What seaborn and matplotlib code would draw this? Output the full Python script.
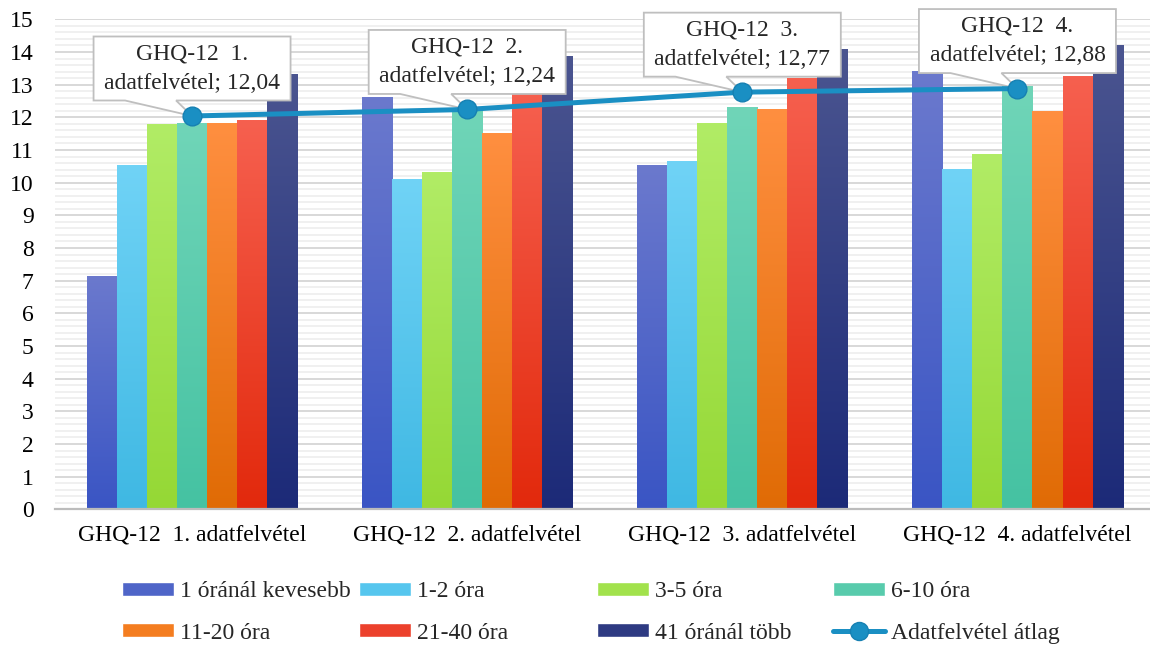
import numpy as np
import pandas as pd
import matplotlib
matplotlib.use("Agg")
import matplotlib.pyplot as plt
import matplotlib.transforms as mtransforms
from matplotlib.patches import Patch, PathPatch
from matplotlib.path import Path
from matplotlib.lines import Line2D
from matplotlib.ticker import MultipleLocator
from matplotlib.colors import to_rgb
import seaborn as sns

# --- data ---
surveys = ["GHQ-12  1. adatfelvétel", "GHQ-12  2. adatfelvétel",
           "GHQ-12  3. adatfelvétel", "GHQ-12  4. adatfelvétel"]
groups = ["1 óránál kevesebb", "1-2 óra", "3-5 óra", "6-10 óra",
          "11-20 óra", "21-40 óra", "41 óránál több"]

less_1h = [7.12, 12.61, 10.52, 13.40]
h1_2 = [10.52, 10.08, 10.64, 10.39]
h3_5 = [11.76, 10.29, 11.81, 10.85]
h6_10 = [11.79, 12.20, 12.29, 12.92]
h11_20 = [11.81, 11.49, 12.22, 12.16]
h21_40 = [11.89, 12.75, 13.17, 13.23]
more_41h = [13.29, 13.85, 14.06, 14.18]
average = [12.04, 12.24, 12.77, 12.88]
avg_label = "Adatfelvétel átlag"

series = [less_1h, h1_2, h3_5, h6_10, h11_20, h21_40, more_41h]

# gradient colours (top -> bottom) per group
top_colors = ["#6b79cd", "#70d3f6", "#b1ec66", "#70d5b8", "#ff8f40", "#f6604f", "#4b5590"]
bottom_colors = ["#3a55c4", "#3fb8e3", "#95d835", "#45c2a2", "#e06b05", "#e2290c", "#1c2a78"]
mid_colors = ["#4f65c8", "#56c6ee", "#a2e24c", "#58cbac", "#f47d20", "#ec412c", "#2e3a82"]
line_color = "#1a8fc3"

df = pd.DataFrame([
    {"survey": s, "group": g, "value": vals[i]}
    for g, vals in zip(groups, series)
    for i, s in enumerate(surveys)
])

W, H = 1150, 646
sns.set_theme(style="white")
plt.rcParams["font.family"] = ["Liberation Serif", "DejaVu Serif"]

fig = plt.figure(figsize=(W / 100, H / 100), dpi=100)
ax = fig.add_axes([54.5 / W, 1 - 509.3 / H, (1155 - 54.5) / W, (509.3 - 19.3) / H])

sns.barplot(data=df, x="survey", y="value", hue="group", order=surveys,
            hue_order=groups, palette=mid_colors, width=0.765, gap=0,
            saturation=1, legend=False, ax=ax, zorder=2)

# replace flat fills with vertical gradients
bars = sorted(ax.patches, key=lambda p: p.get_x())
for k, p in enumerate(bars):
    hi = k % len(groups)
    x0, w, h = p.get_x(), p.get_width(), p.get_height()
    t = np.linspace(0, 1, 256)[:, None]
    c0, c1 = np.array(to_rgb(top_colors[hi])), np.array(to_rgb(bottom_colors[hi]))
    grad = (c0 * (1 - t) + c1 * t)[:, None, :]
    ax.imshow(grad, extent=[x0, x0 + w, 0, h], aspect="auto", origin="upper",
              zorder=2, interpolation="bilinear")
    p.set_visible(False)

ax.set_xlim(-0.5, len(surveys) - 0.5)
ax.set_ylim(0, 15)
ax.set_yticks(range(16))
ax.yaxis.set_minor_locator(MultipleLocator(0.2))
ax.grid(axis="y", which="major", color="#d6d6d6", lw=1.3)
ax.grid(axis="y", which="minor", color="#efefef", lw=1.3)
ax.grid(axis="x", visible=False)
ax.set_axisbelow(True)
for side in ["top", "right", "left"]:
    ax.spines[side].set_visible(False)
ax.spines["bottom"].set_color("#bcbcbc")
ax.spines["bottom"].set_linewidth(1.6)
ax.spines["bottom"].set_zorder(3)
ax.tick_params(axis="both", which="both", length=0, labelsize=17, labelcolor="black")
ax.tick_params(axis="y", pad=15)
ax.tick_params(axis="x", pad=11)
ax.set_xlabel("")
ax.set_ylabel("")
ax.set_facecolor("white")

# average line
sns.lineplot(x=np.arange(len(surveys)), y=average, color=line_color, linewidth=3.6,
             marker="o", markersize=13.5, markerfacecolor=line_color,
             markeredgecolor="#1680b2", markeredgewidth=1, ax=ax, zorder=5)

# callouts
bw, bh, gap_px = 197, 64, 15.5
verts = [(-bw / 2, gap_px), (-67, gap_px), (0, 0), (-16, gap_px), (bw / 2, gap_px),
         (bw / 2, gap_px + bh), (-bw / 2, gap_px + bh), (-bw / 2, gap_px)]
codes = [Path.MOVETO] + [Path.LINETO] * 6 + [Path.CLOSEPOLY]
for i, (name, val) in enumerate(zip(surveys, average)):
    trans = mtransforms.Affine2D() + mtransforms.ScaledTranslation(i, val, ax.transData)
    ax.add_patch(PathPatch(Path(verts, codes), transform=trans, facecolor="white",
                           edgecolor="#bfbfbf", lw=1.3, zorder=4, clip_on=False))
    head = name.replace(" adatfelvétel", "")
    num = f"{val:.2f}".replace(".", ",")
    ax.text(0, gap_px + bh / 2, f"{head}\nadatfelvétel; {num}", transform=trans,
            ha="center", va="center", fontsize=17, linespacing=1.55, zorder=4.5,
            clip_on=False)

# legend: four columns of two rows
handles = [Patch(facecolor=c) for c in mid_colors]
handles.append(Line2D([], [], color=line_color, lw=3.6, marker="o", markersize=13,
                      markerfacecolor=line_color, markeredgecolor="#1680b2"))
labels = groups + [avg_label]
col_x = [121.7, 359, 597, 833]
for c in range(4):
    fig.legend([handles[c], handles[c + 4]], [labels[c], labels[c + 4]],
               loc="center left", bbox_to_anchor=(col_x[c] / W, 1 - 612.5 / H),
               frameon=False, fontsize=17, handlelength=2.2, handleheight=0.52,
               handletextpad=0.25, labelspacing=0.85, borderpad=0, borderaxespad=0)

fig.savefig("out.png", dpi=100, facecolor="white")
